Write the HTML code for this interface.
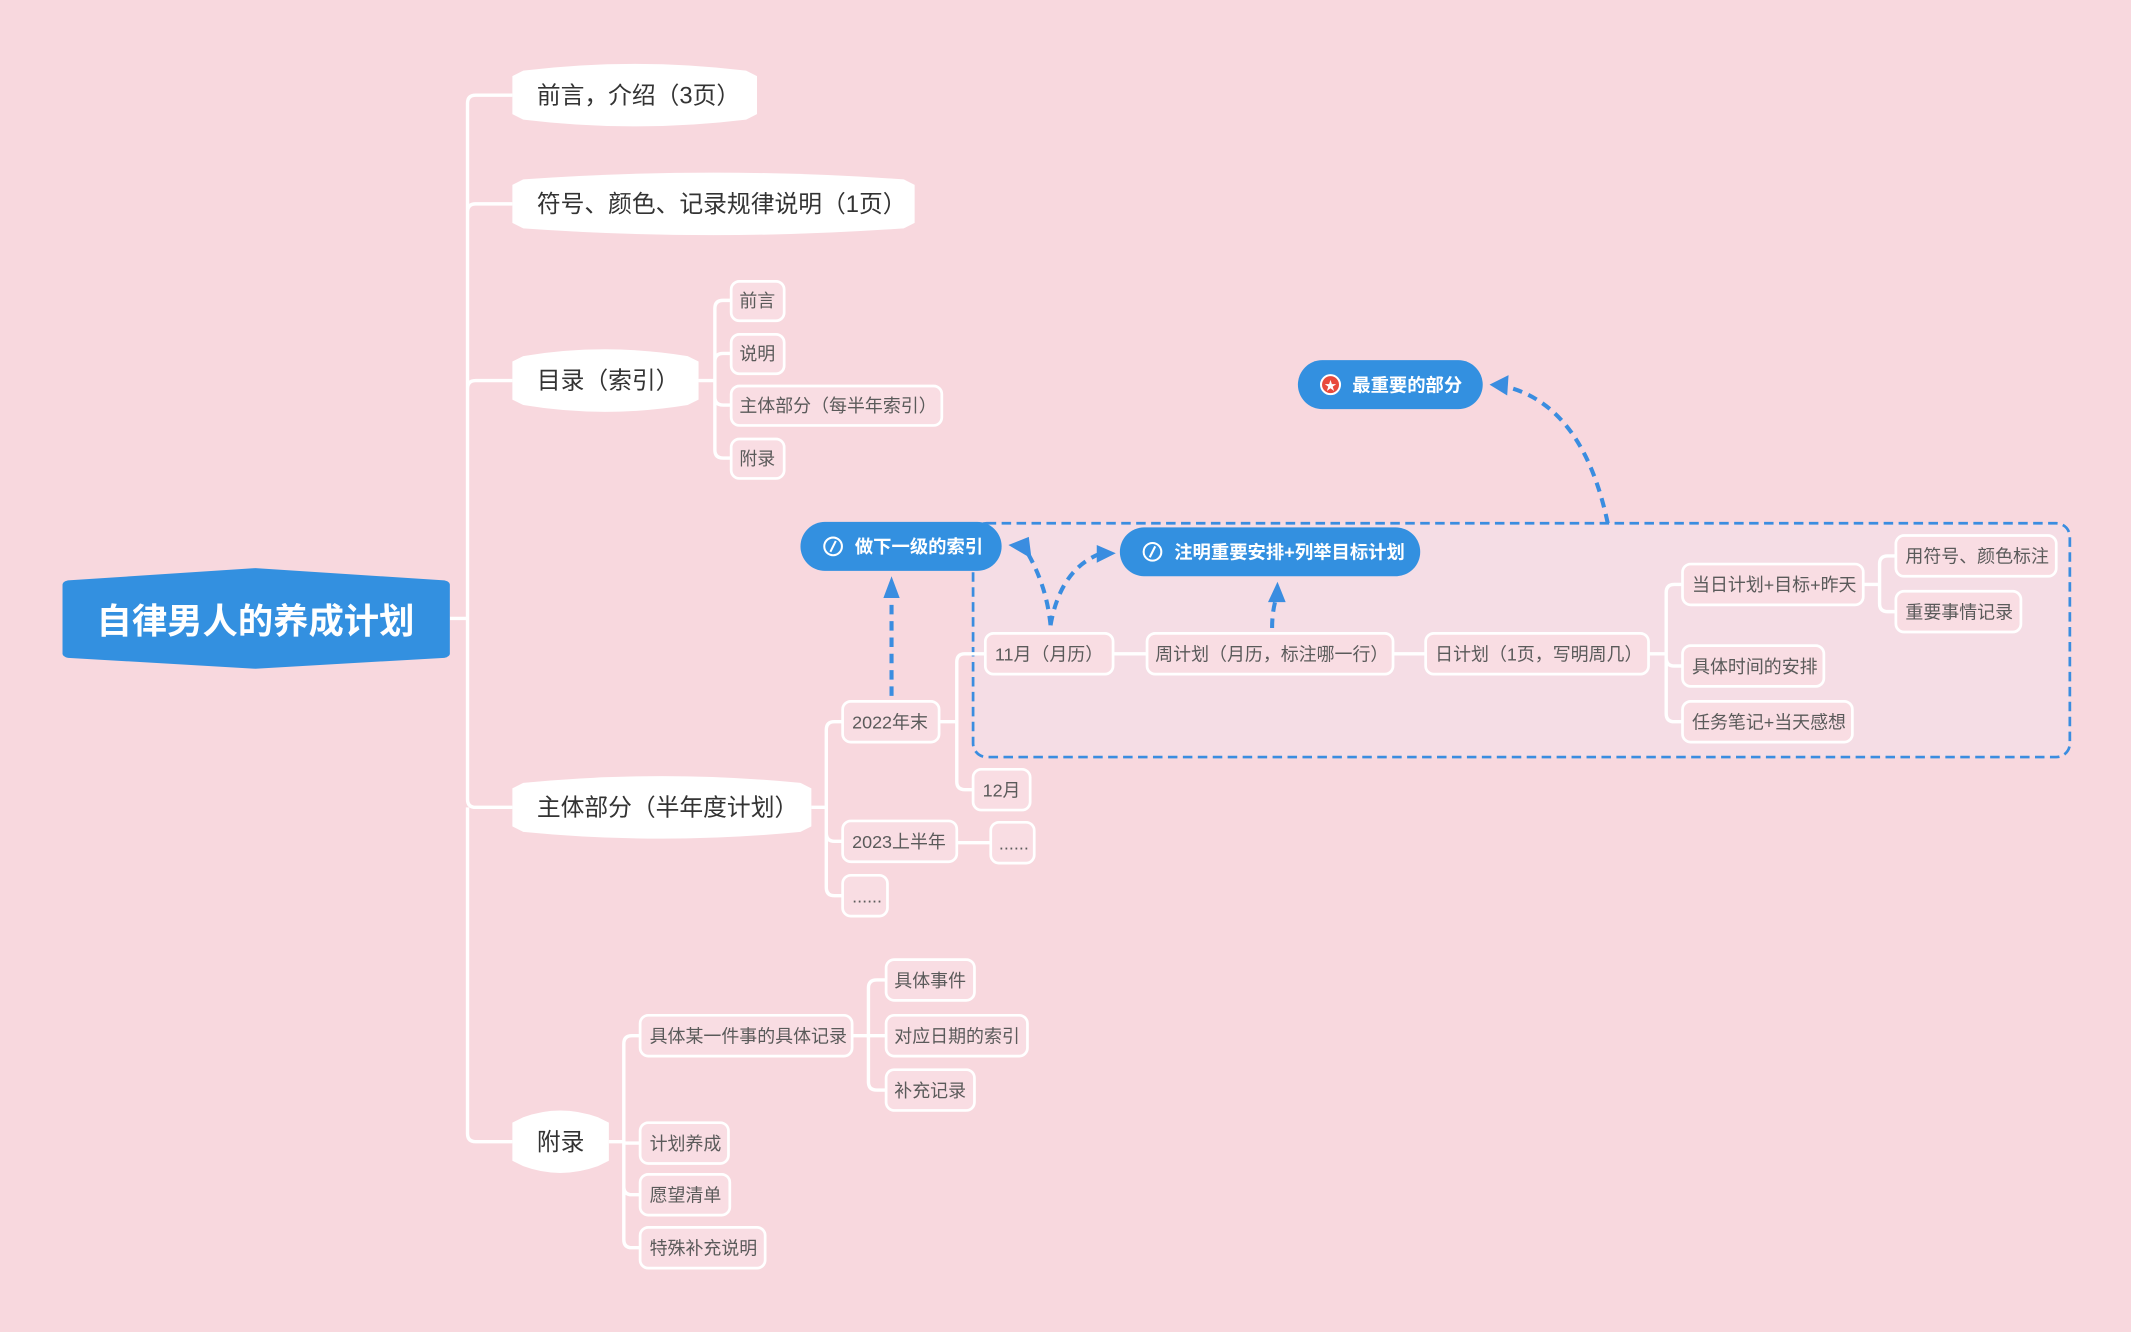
<!DOCTYPE html>
<html><head><meta charset="utf-8"><style>
html,body{margin:0;padding:0;background:#f8d8de;}
svg{display:block;}
text{font-family:"Liberation Sans","Noto Sans CJK SC",sans-serif;}
.n{fill:#f9dde3;stroke:#fff;stroke-width:2;}
.t{font-size:13.2px;fill:#5a5a5a;}
.L{fill:#fff;}
.lt{font-size:17.5px;fill:#333;}
.c{fill:none;stroke:#fff;stroke-width:2.5;}
.d{fill:none;stroke:#3a8de0;stroke-width:3;stroke-dasharray:7 5;}
.ah{fill:#3a8de0;}
.b{fill:#3390e0;}
.bt{font-size:13.5px;fill:#fff;font-weight:bold;}
</style></head><body>
<svg width="2131" height="1332" viewBox="0 0 1568 980" preserveAspectRatio="none" xmlns="http://www.w3.org/2000/svg">
<rect width="1568" height="980" fill="#f8d8de"/>
<rect x="716" y="385" width="807" height="172" rx="10" fill="#f5dde5" stroke="#3a8de0" stroke-width="2" stroke-dasharray="7 4"/>

<path class="c" d="M331 455 H344 M344 455 V76 Q344 70 350 70 H377 M344 156 Q344 150 350 150 H377 M344 286 Q344 280 350 280 H377 M344 455 V588 Q344 594 350 594 H377 M344 594 V834 Q344 840 350 840 H377"/>
<path class="c" d="M514 280 H526 M526 227 Q526 221 532 221 H538 M526 227 V331 Q526 337 532 337 H538 M526 266 Q526 260 532 260 H538 M526 292 Q526 298 532 298 H538"/>
<path class="c" d="M597 594 H608 M608 537 Q608 531 614 531 H620 M608 537 V653 Q608 659 614 659 H620 M608 613 Q608 619 614 619 H620"/>
<path class="c" d="M691 531 H704 M704 487 Q704 481 710 481 H725 M704 487 V575 Q704 581 710 581 H716 M704 620 H729"/>
<path class="c" d="M819 481 H844 M1025 481 H1049 M1213 481 H1226 M1226 436 Q1226 430 1232 430 H1238 M1226 436 V525 Q1226 531 1232 531 H1238 M1226 484 Q1226 490 1232 490 H1238"/>
<path class="c" d="M1371 430 H1383 M1383 415 Q1383 409 1389 409 H1395 M1383 415 V444 Q1383 450 1389 450 H1395"/>
<path class="c" d="M448 840 H459 M459 768 Q459 762 465 762 H471 M459 768 V912 Q459 918 465 918 H471 M459 841 H471 M459 873 Q459 879 465 879 H471"/>
<path class="c" d="M627 762 H639 M639 727 Q639 721 645 721 H652 M639 727 V796 Q639 802 645 802 H652 M639 762 H652"/>

<path fill="#3390e0" d="M46 430 Q46 428 50 427 L188 418 L327 427 Q331 428 331 430 V481 Q331 483 327 484 L188 492 L50 484 Q46 483 46 481 Z"/>
<text x="188" y="466" text-anchor="middle" font-size="26" font-weight="bold" fill="#fff">自律男人的养成计划</text>

<path class="L" d="M377 56 L385 52 Q467 42 549 52 L557 56 V84 L549 88 Q467 98 385 88 L377 84 Z"/>
<text class="lt" x="395" y="76">前言，介绍（3页）</text>
<path class="L" d="M377 136 L385 132 Q525 122 665 132 L673 136 V164 L665 168 Q525 178 385 168 L377 164 Z"/>
<text class="lt" x="395" y="156">符号、颜色、记录规律说明（1页）</text>
<path class="L" d="M377 266 L385 262 Q445 252 506 262 L514 266 V294 L506 298 Q445 308 385 298 L377 294 Z"/>
<text class="lt" x="395" y="286">目录（索引）</text>
<path class="L" d="M377 580 L385 576 Q487 566 589 576 L597 580 V608 L589 612 Q487 622 385 612 L377 608 Z"/>
<text class="lt" x="395" y="600">主体部分（半年度计划）</text>
<path class="L" d="M377 826 L385 822 Q412 812 440 822 L448 826 V854 L440 858 Q412 868 385 858 L377 854 Z"/>
<text class="lt" x="395" y="846">附录</text>

<rect class="n" x="538" y="207" width="39" height="29" rx="6"/><text class="t" x="544" y="226">前言</text>
<rect class="n" x="538" y="246" width="39" height="29" rx="6"/><text class="t" x="544" y="265">说明</text>
<rect class="n" x="538" y="284" width="155" height="29" rx="6"/><text class="t" x="544" y="303">主体部分（每半年索引）</text>
<rect class="n" x="538" y="323" width="39" height="29" rx="6"/><text class="t" x="544" y="342">附录</text>

<rect class="n" x="620" y="516" width="71" height="30" rx="6"/><text class="t" x="627" y="536">2022年末</text>
<rect class="n" x="620" y="604" width="84" height="30" rx="6"/><text class="t" x="627" y="624">2023上半年</text>
<rect class="n" x="620" y="644" width="33" height="30" rx="6"/><text class="t" x="627" y="664">......</text>
<rect class="n" x="729" y="605" width="32" height="30" rx="6"/><text class="t" x="735" y="625">......</text>
<rect class="n" x="716" y="566" width="42" height="30" rx="6"/><text class="t" x="723" y="586">12月</text>
<rect class="n" x="725" y="466" width="94" height="30" rx="6"/><text class="t" x="732" y="486">11月（月历）</text>
<rect class="n" x="844" y="466" width="181" height="30" rx="6"/><text class="t" x="850" y="486">周计划（月历，标注哪一行）</text>
<rect class="n" x="1049" y="466" width="164" height="30" rx="6"/><text class="t" x="1056" y="486">日计划（1页，写明周几）</text>
<rect class="n" x="1238" y="415" width="133" height="30" rx="6"/><text class="t" x="1245" y="435">当日计划+目标+昨天</text>
<rect class="n" x="1238" y="475" width="104" height="30" rx="6"/><text class="t" x="1245" y="495">具体时间的安排</text>
<rect class="n" x="1238" y="516" width="125" height="30" rx="6"/><text class="t" x="1245" y="536">任务笔记+当天感想</text>
<rect class="n" x="1395" y="394" width="118" height="30" rx="6"/><text class="t" x="1402" y="414">用符号、颜色标注</text>
<rect class="n" x="1395" y="435" width="92" height="30" rx="6"/><text class="t" x="1402" y="455">重要事情记录</text>

<rect class="n" x="471" y="747" width="156" height="30" rx="6"/><text class="t" x="478" y="767">具体某一件事的具体记录</text>
<rect class="n" x="471" y="826" width="65" height="30" rx="6"/><text class="t" x="478" y="846">计划养成</text>
<rect class="n" x="471" y="864" width="66" height="30" rx="6"/><text class="t" x="478" y="884">愿望清单</text>
<rect class="n" x="471" y="903" width="92" height="30" rx="6"/><text class="t" x="478" y="923">特殊补充说明</text>
<rect class="n" x="652" y="706" width="65" height="30" rx="6"/><text class="t" x="658" y="726">具体事件</text>
<rect class="n" x="652" y="747" width="104" height="30" rx="6"/><text class="t" x="658" y="767">对应日期的索引</text>
<rect class="n" x="652" y="787" width="65" height="30" rx="6"/><text class="t" x="658" y="807">补充记录</text>

<rect class="b" x="589" y="384" width="148" height="36" rx="18"/>
<circle cx="613" cy="402" r="6.5" fill="none" stroke="#fff" stroke-width="1.5"/><path d="M611 406 L615 398" stroke="#fff" stroke-width="1.5"/>
<text class="bt" x="629" y="407">做下一级的索引</text>
<rect class="b" x="824" y="388" width="221" height="36" rx="18"/>
<circle cx="848" cy="406" r="6.5" fill="none" stroke="#fff" stroke-width="1.5"/><path d="M846 410 L850 402" stroke="#fff" stroke-width="1.5"/>
<text class="bt" x="864" y="411">注明重要安排+列举目标计划</text>
<rect class="b" x="955" y="265" width="136" height="36" rx="18"/>
<circle cx="979" cy="283" r="7" fill="#e84a3c" stroke="#fff" stroke-width="1.5"/><text x="979" y="287" text-anchor="middle" font-size="9" fill="#fff">★</text>
<text class="bt" x="995" y="288">最重要的部分</text>

<path class="d" d="M656 512 V440"/>
<path class="ah" d="M650 440 L656 424 L662 440 Z"/>
<path class="d" d="M773 460 Q770 430 755 405"/>
<path class="ah" d="M742 401 L757 395 L759 411 Z"/>
<path class="d" d="M773 460 Q780 420 808 408"/>
<path class="ah" d="M807 401 L821 407 L807 414 Z"/>
<path class="d" d="M936 462 Q936 450 939 440"/>
<path class="ah" d="M933 443 L940 428 L946 443 Z"/>
<path class="d" d="M1183 385 Q1165 300 1110 285"/>
<path class="ah" d="M1096 283 L1110 276 L1109 291 Z"/>
</svg>
</body></html>
